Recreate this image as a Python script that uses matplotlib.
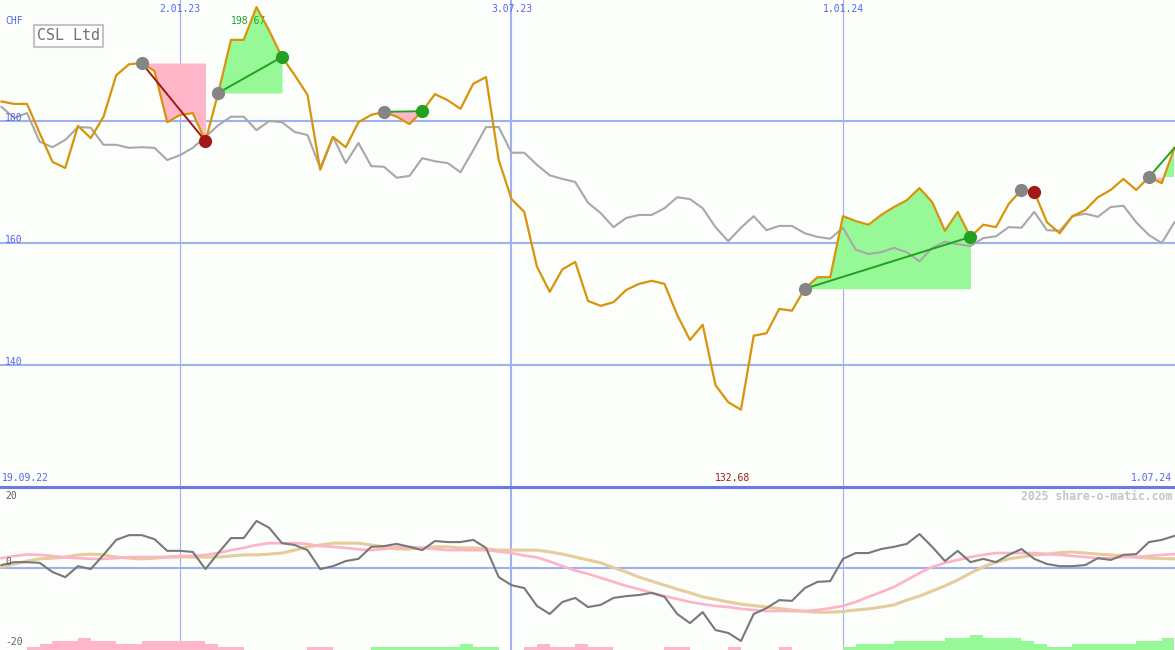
import numpy as np
import pandas as pd
import matplotlib
matplotlib.use("Agg")
import matplotlib.pyplot as plt
import matplotlib.transforms as mtransforms
from matplotlib.lines import Line2D

plt.rcParams['font.family'] = ['DejaVu Sans Mono']

# ----------------------
# DATA (weekly closes, CHF)
# ----------------------
weeks = pd.date_range("2022-09-26", periods=93, freq="7D")

price = [183.2, 182.8, 182.8, 178.0, 173.3, 172.3, 179.2, 177.2, 180.7, 187.5,
         189.3, 189.5, 188.2, 179.8, 181.0, 181.3, 176.7, 184.6, 193.3, 193.3,
         198.67, 194.8, 190.5, 187.5, 184.3, 172.0, 177.4, 175.7, 179.8, 181.0,
         181.5, 180.7, 179.5, 181.6, 184.4, 183.4, 182.0, 186.1, 187.2, 173.6,
         167.2, 165.1, 156.1, 152.0, 155.7, 156.9, 150.5, 149.7, 150.3, 152.3,
         153.3, 153.8, 153.3, 148.2, 144.1, 146.6, 136.7, 133.9, 132.68, 144.8,
         145.2, 149.2, 148.9, 152.5, 154.4, 154.4, 164.4, 163.6, 163.0, 164.6,
         165.9, 167.0, 169.0, 166.7, 162.0, 165.1, 161.0, 163.0, 162.6, 166.4,
         168.7, 168.4, 163.4, 161.6, 164.4, 165.4, 167.5, 168.7, 170.5, 168.7,
         170.8, 169.8, 175.6]

bench = [182.3, 180.5, 181.3, 176.6, 175.7, 176.9, 179.0, 178.9, 176.1, 176.1,
         175.6, 175.7, 175.6, 173.6, 174.4, 175.6, 177.4, 179.3, 180.7, 180.7,
         178.5, 180.0, 179.8, 178.2, 177.7, 172.3, 177.4, 173.1, 176.4, 172.6,
         172.5, 170.7, 171.0, 173.9, 173.4, 173.1, 171.6, 175.2, 179.0, 179.0,
         174.8, 174.8, 172.8, 171.1, 170.5, 170.0, 166.6, 164.9, 162.6, 164.1,
         164.6, 164.6, 165.7, 167.5, 167.2, 165.7, 162.6, 160.3, 162.5, 164.4,
         162.1, 162.8, 162.8, 161.6, 161.0, 160.7, 162.5, 158.9, 158.2, 158.5,
         159.2, 158.5, 157.0, 159.2, 160.2, 159.8, 159.5, 160.8, 161.1, 162.6,
         162.5, 165.1, 162.1, 162.0, 164.4, 164.8, 164.3, 165.9, 166.1, 163.4,
         161.3, 160.0, 163.4]

osc = [0.8, 1.6, 1.6, 1.4, -1.1, -2.5, 0.5, -0.3, 3.6, 7.7,
       9.0, 9.0, 7.9, 4.7, 4.7, 4.4, -0.3, 4.1, 8.2, 8.2,
       12.9, 11.0, 6.8, 6.3, 4.9, -0.3, 0.5, 1.9, 2.5, 5.8,
       6.0, 6.6, 5.8, 4.9, 7.4, 7.1, 7.1, 7.7, 5.5, -2.5,
       -4.7, -5.5, -10.4, -12.6, -9.3, -8.2, -10.7, -10.1, -8.2, -7.7,
       -7.4, -6.8, -7.9, -12.6, -15.1, -12.1, -17.0, -17.8, -20.0, -12.6,
       -11.0, -8.8, -9.0, -5.5, -3.8, -3.6, 2.5, 4.1, 4.1, 5.2,
       5.8, 6.6, 9.3, 5.8, 1.9, 4.7, 1.6, 2.5, 1.6, 3.6,
       5.2, 2.5, 1.1, 0.5, 0.5, 0.8, 2.7, 2.2, 3.6, 3.8,
       7.1, 7.7, 8.8]

osc_fast = [2.7, 3.3, 3.7, 3.6, 3.3, 2.9, 2.7, 2.5, 2.5, 2.7,
            3.0, 3.0, 3.0, 3.0, 3.3, 3.3, 3.6, 4.1, 4.9, 5.5,
            6.3, 6.8, 6.8, 6.8, 6.6, 6.0, 5.8, 5.5, 5.1, 4.9,
            5.2, 5.8, 5.8, 5.5, 5.2, 4.9, 4.9, 4.9, 4.9, 4.5,
            4.1, 3.4, 2.9, 1.8, 0.5, -0.7, -1.6, -2.7, -3.8, -4.9,
            -5.8, -6.8, -7.7, -8.5, -9.3, -9.9, -10.4, -10.7, -11.2, -11.5,
            -11.8, -11.8, -11.8, -11.8, -11.5, -11.0, -10.4, -9.3, -7.9, -6.6,
            -5.2, -3.3, -1.4, 0.3, 1.4, 2.2, 3.0, 3.6, 4.1, 4.1,
            4.1, 4.1, 3.8, 3.6, 3.3, 3.0, 2.7, 2.7, 3.0, 3.0,
            3.3, 3.6, 3.8]

osc_slow = [0.3, 1.1, 1.9, 2.5, 2.7, 3.0, 3.6, 3.8, 3.6, 3.0,
            2.7, 2.5, 2.7, 3.0, 3.0, 3.0, 3.0, 3.0, 3.3, 3.6,
            3.6, 3.8, 4.1, 4.9, 5.8, 6.3, 6.8, 6.8, 6.8, 6.3,
            5.8, 5.2, 5.2, 5.5, 5.8, 5.8, 5.5, 5.5, 5.2, 4.9,
            4.9, 4.9, 4.9, 4.4, 3.8, 3.0, 2.2, 1.4, 0.1, -1.1,
            -2.5, -3.6, -4.7, -5.8, -6.8, -7.9, -8.6, -9.3, -9.9, -10.3,
            -10.7, -11.1, -11.5, -11.9, -12.1, -12.1, -11.9, -11.5, -11.2, -10.7,
            -10.1, -8.8, -7.7, -6.3, -4.9, -3.3, -1.4, 0.3, 1.6, 2.5,
            3.0, 3.6, 3.8, 4.2, 4.4, 4.1, 3.8, 3.6, 3.3, 3.0,
            2.7, 2.6, 2.5]

signal = [0, 0, -1, -2, -3, -3, -4, -3, -3, -2,
          -2, -3, -3, -3, -3, -3, -2, -1, -1, 0,
          0, 0, 0, 0, -1, -1, 0, 0, 0, 1,
          1, 1, 1, 1, 1, 1, 2, 1, 1, 0,
          0, -1, -2, -1, -1, -2, -1, -1, 0, 0,
          0, 0, -1, -1, 0, 0, 0, -1, 0, 0,
          0, -1, 0, 0, 0, 0, 1, 2, 2, 2,
          3, 3, 3, 3, 4, 4, 5, 4, 4, 4,
          3, 2, 1, 1, 2, 2, 2, 2, 2, 3,
          3, 4, 0]

# trades: entry week index, exit week index (last one still open)
trade_entry = [11, 17, 30, 63, 80, 90]
trade_exit = [16, 22, 33, 76, 81, 92]
trade_open = [False, False, False, False, False, True]

marks = pd.to_datetime(["2023-01-02", "2023-07-03", "2024-01-01"])
mark_width = [0.8, 1.5, 0.8]
price_levels = [140, 160, 180]

# ----------------------
# STYLE
# ----------------------
bg = '#fbfefb'
grid_c = '#a3b0f0'
div_c = '#6a78e8'
txt_blue = '#5566ee'
orange = '#d8940a'
pink_fill = '#ffb6c8'
green_fill = '#96f896'

price = np.array(price)
bench = np.array(bench)

fig = plt.figure(figsize=(11.75, 6.5), dpi=100, facecolor=bg)
ax = fig.add_axes([0, 163 / 650, 1, 487 / 650], facecolor=bg)
ax2 = fig.add_axes([0, 0, 1, 163 / 650], facecolor=bg)
ax3 = ax2.twinx()

xlim = (weeks[0] - pd.Timedelta(days=0.82), weeks[-1] + pd.Timedelta(days=0.3))
for a in (ax, ax2, ax3):
    a.set_xlim(*xlim)
    a.set_xticks([])
    a.set_yticks([])
    for s in a.spines.values():
        s.set_visible(False)

ax.set_ylim(120, 180 + 121 / 6.1)
ax2.set_ylim(-(650 - 568) / 3.65, (568 - 487) / 3.65)
ax3.set_ylim(0, 163 / 3)
ax3.patch.set_visible(False)

# grid
for lv in price_levels:
    ax.axhline(lv, color=grid_c, lw=1.5, zorder=1)
ax2.axhline(0, color=grid_c, lw=1.5, zorder=1)
for m, w in zip(marks, mark_width):
    ax.axvline(m, color=grid_c, lw=w, zorder=1)
    ax2.axvline(m, color=grid_c, lw=w, zorder=1)
# panel divider
fig.add_artist(Line2D([0, 1], [163 / 650, 163 / 650], transform=fig.transFigure,
                      color=div_c, lw=2.2, zorder=5))

# trade fills
for e, x in zip(trade_entry, trade_exit):
    xs = weeks[e:x + 1]
    ys = price[e:x + 1]
    base = price[e]
    ax.fill_between(xs, base, ys, where=ys >= base, interpolate=True,
                    color=green_fill, lw=0, zorder=2)
    ax.fill_between(xs, base, ys, where=ys <= base, interpolate=True,
                    color=pink_fill, lw=0, zorder=2)

ax.plot(weeks, bench, color='#a8a8a8', lw=1.5, zorder=3)
ax.plot(weeks, price, color=orange, lw=1.6, zorder=4)

for e, x, op in zip(trade_entry, trade_exit, trade_open):
    win = price[x] >= price[e]
    lc = '#22a022' if win else '#a01818'
    ax.plot([weeks[e], weeks[x]], [price[e], price[x]], color=lc, lw=1.4, zorder=5)
    ax.plot(weeks[e], price[e], 'o', color='#858585', ms=9.5, mew=0, zorder=6)
    if not op:
        ax.plot(weeks[x], price[x], 'o', color=lc, ms=9.5, mew=0, zorder=6)

# lower panel
hist = np.array(signal)
ax3.bar(weeks, np.abs(hist), width=7, align='edge', bottom=0,
        color=np.where(hist > 0, green_fill, pink_fill), lw=0, zorder=1)
ax2.plot(weeks, osc_slow, color='#e6cc9a', lw=2.2, zorder=3)
ax2.plot(weeks, osc_fast, color='#ffb2c8', lw=1.9, zorder=3)
ax2.plot(weeks, osc, color='#787878', lw=1.5, zorder=4)

# ----------------------
# TEXT
# ----------------------
def fy(y):
    return 1 - y / 650

fs = 7
fig.text(5 / 1175, fy(21), 'CHF', color=txt_blue, fontsize=fs, va='center')
blend = mtransforms.blended_transform_factory(ax.transAxes, ax.transData)
for lv in price_levels:
    ax.text(5 / 1175, lv - 0.25, str(lv), color=txt_blue, fontsize=fs,
            va='bottom', transform=blend, zorder=7)

fig.text(37 / 1175, fy(36), 'CSL Ltd', color='#707070', fontsize=10.8, va='center',
         bbox=dict(boxstyle='square,pad=0.22', fc='white', ec='#c4c4c4', lw=1.5))

for m in marks:
    ax.annotate(f"{m.day}.{m.month:02d}.{m.strftime('%y')}", xy=(m, 650 - 9),
                xycoords=('data', 'figure pixels'), ha='center', va='center',
                color=txt_blue, fontsize=fs)

imax = int(np.argmax(price))
imin = int(np.argmin(price))
ax.annotate(f"{price[imax]:.2f}", xy=(weeks[imax], 650 - 21),
            xycoords=('data', 'figure pixels'), xytext=(-5.8, 0),
            textcoords='offset points', ha='center', va='center',
            color='#22a022', fontsize=fs, zorder=3)
ax.annotate(f"{price[imin]:.2f}", xy=(weeks[imin], 650 - 478),
            xycoords=('data', 'figure pixels'), xytext=(-5.8, 0),
            textcoords='offset points', ha='center', va='center',
            color='#a01818', fontsize=fs)

fig.text(2 / 1175, fy(478), '19.09.22', color=txt_blue, fontsize=fs, va='center')
fig.text(1172 / 1175, fy(478), f"{weeks[-1].day}.{weeks[-1].strftime('%m.%y')}",
         color=txt_blue, fontsize=fs, va='center', ha='right')

fig.text(1172 / 1175, fy(496), '2025 share-o-matic.com', color='#c6c6c6',
         fontsize=8.3, fontweight='bold', va='center', ha='right')

for lab, y in [('20', 496), ('0', 562), ('-20', 642)]:
    fig.text(5 / 1175, fy(y), lab, color='#606060', fontsize=fs, va='center')

fig.savefig('out.png', dpi=100, facecolor=bg)
